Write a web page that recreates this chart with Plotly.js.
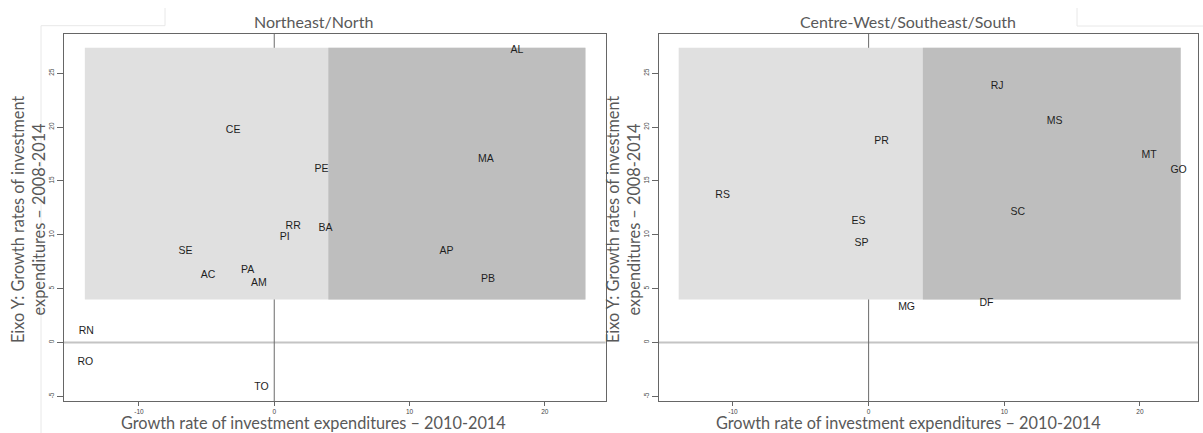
<!DOCTYPE html>
<html>
<head>
<meta charset="utf-8">
<script src="https://cdn.plot.ly/plotly-3.0.1.min.js"></script>
<style>
  html, body { margin: 0; padding: 0; background: #ffffff; }
  #chart { width: 1203px; height: 433px; }
</style>
</head>
<body>
<div id="chart"></div>
<script>
// Northeast / North states
const statesNorth = ["AL", "CE", "MA", "PE", "RR", "PI", "BA", "SE", "AP", "PA", "AC", "AM", "PB", "RN", "RO", "TO"];
const growthNorth20102014 = [17.94, -3.04, 15.64, 3.50, 1.40, 0.78, 3.79, -6.56, 12.73, -1.97, -4.89, -1.14, 15.81, -13.89, -13.96, -0.95];
const growthNorth20082014 = [27.16, 19.73, 17.04, 16.08, 10.82, 9.77, 10.60, 8.50, 8.43, 6.73, 6.20, 5.50, 5.87, 1.00, -1.88, -4.16];

// Centre-West / Southeast / South states
const statesSouth = ["RS", "ES", "SP", "PR", "RJ", "MS", "MT", "GO", "SC", "DF", "MG"];
const growthSouth20102014 = [-10.76, -0.74, -0.52, 0.96, 9.47, 13.71, 20.67, 22.85, 10.99, 8.69, 2.80];
const growthSouth20082014 = [13.63, 11.22, 9.21, 18.64, 23.82, 20.57, 17.41, 16.02, 12.05, 3.64, 3.23];

// Axis ticks
const xTicks = [-10, 0, 10, 20];
const yTicks = [-5, 0, 5, 10, 15, 20, 25];

// Quadrant shading bounds (data units)
const bandXMin = -14, bandXSplit = 4, bandXMax = 23;
const bandYMin = 4, bandYMax = 27.37;

const W = 1203, H = 433;
const px = v => v / W;
const py = v => 1 - v / H;

const titleFont = { family: "Lato, 'Open Sans', sans-serif", color: "#595959" };
const labelFont = { family: "'Liberation Sans', Arial, sans-serif", size: 10.5, color: "#1e1e1e" };

const traces = [
  {
    x: growthNorth20102014, y: growthNorth20082014, text: statesNorth,
    mode: "text", type: "scatter", textposition: "middle center",
    textfont: labelFont, xaxis: "x", yaxis: "y", hoverinfo: "text", showlegend: false
  },
  {
    x: growthSouth20102014, y: growthSouth20082014, text: statesSouth,
    mode: "text", type: "scatter", textposition: "middle center",
    textfont: labelFont, xaxis: "x2", yaxis: "y2", hoverinfo: "text", showlegend: false
  }
];

function axisCommon(range) {
  return {
    range: range, showgrid: false, zeroline: false,
    showline: true, mirror: true, linecolor: "#666666", linewidth: 1,
    ticks: "outside", ticklen: 4, tickcolor: "#666666", tickwidth: 1,
    tickfont: { family: "'Liberation Sans', Arial, sans-serif", size: 6.5, color: "#444444" },
    fixedrange: true
  };
}

const yDomain = [32 / H, 399 / H];
const yRange = [-5.43, 28.64];

const layout = {
  width: W, height: H, autosize: false,
  margin: { l: 0, r: 0, t: 0, b: 0 },
  paper_bgcolor: "#ffffff", plot_bgcolor: "#ffffff",
  showlegend: false,
  xaxis: Object.assign(axisCommon([-15.54, 24.5]), { domain: [64 / W, 605.7 / W], anchor: "y", tickvals: xTicks, ticktext: xTicks.map(String) }),
  yaxis: Object.assign(axisCommon(yRange), { domain: yDomain, anchor: "x", tickvals: yTicks, ticktext: yTicks.map(String), tickangle: -90, ticklen: 6 }),
  xaxis2: Object.assign(axisCommon([-15.45, 24.3]), { domain: [659 / W, 1198.3 / W], anchor: "y2", tickvals: xTicks, ticktext: xTicks.map(String) }),
  yaxis2: Object.assign(axisCommon(yRange), { domain: yDomain, anchor: "x2", tickvals: yTicks, ticktext: yTicks.map(String), tickangle: -90, ticklen: 6 }),
  shapes: [],
  annotations: []
};

// Shaded quadrants and reference lines for each panel
[["x", "y"], ["x2", "y2"]].forEach(([xr, yr]) => {
  layout.shapes.push(
    { type: "rect", xref: xr, yref: yr, x0: bandXMin, x1: bandXMax, y0: bandYMin, y1: bandYMax,
      fillcolor: "#e0e0e0", line: { width: 0 }, layer: "below" },
    { type: "rect", xref: xr, yref: yr, x0: bandXSplit, x1: bandXMax, y0: bandYMin, y1: bandYMax,
      fillcolor: "#bebebe", line: { width: 0 }, layer: "below" },
    { type: "line", xref: xr + " domain", yref: yr, x0: 0, x1: 1, y0: 0, y1: 0,
      line: { color: "#c4c4c4", width: 2 }, layer: "below" },
    { type: "line", xref: xr, yref: yr + " domain", x0: 0, x1: 0, y0: 0, y1: 1,
      line: { color: "#6a6a6a", width: 1 }, layer: "below" }
  );
});

// Faint outline of the framing around the figure
const frame = { color: "#e8e8e8", width: 1 };
layout.shapes.push(
  { type: "path", xref: "paper", yref: "paper",
    path: `M ${px(41)} ${py(433)} L ${px(41)} ${py(25.7)} L ${px(165)} ${py(25.7)} L ${px(165)} ${py(8)}`,
    line: frame, layer: "below" },
  { type: "path", xref: "paper", yref: "paper",
    path: `M ${px(1077)} ${py(8)} L ${px(1077)} ${py(26)} L ${px(1203)} ${py(26)}`,
    line: frame, layer: "below" }
);

// Panel titles
const panels = [
  { title: "Northeast/North", cx: 313, ycx: 28 },
  { title: "Centre-West/Southeast/South", cx: 908, ycx: 623 }
];
panels.forEach(p => {
  layout.annotations.push(
    { text: p.title, xref: "paper", yref: "paper", x: px(p.cx), y: py(21.5),
      xanchor: "center", yanchor: "middle", showarrow: false,
      font: Object.assign({ size: 16 }, titleFont) },
    { text: "Growth rate of investment expenditures \u2013 2010-2014", xref: "paper", yref: "paper",
      x: px(p.cx), y: 0, xanchor: "center", yanchor: "bottom", showarrow: false, borderpad: 0,
      font: Object.assign({ size: 16.3 }, titleFont) },
    { text: "Eixo Y: Growth rates of investment<br>expenditures \u2013 2008-2014", xref: "paper", yref: "paper",
      x: px(p.ycx), y: py(220), xanchor: "center", yanchor: "middle", showarrow: false,
      textangle: -90, align: "center",
      font: Object.assign({ size: 16.3 }, titleFont) }
  );
});

Plotly.newPlot("chart", traces, layout, { displayModeBar: false, staticPlot: true });
</script>
</body>
</html>
